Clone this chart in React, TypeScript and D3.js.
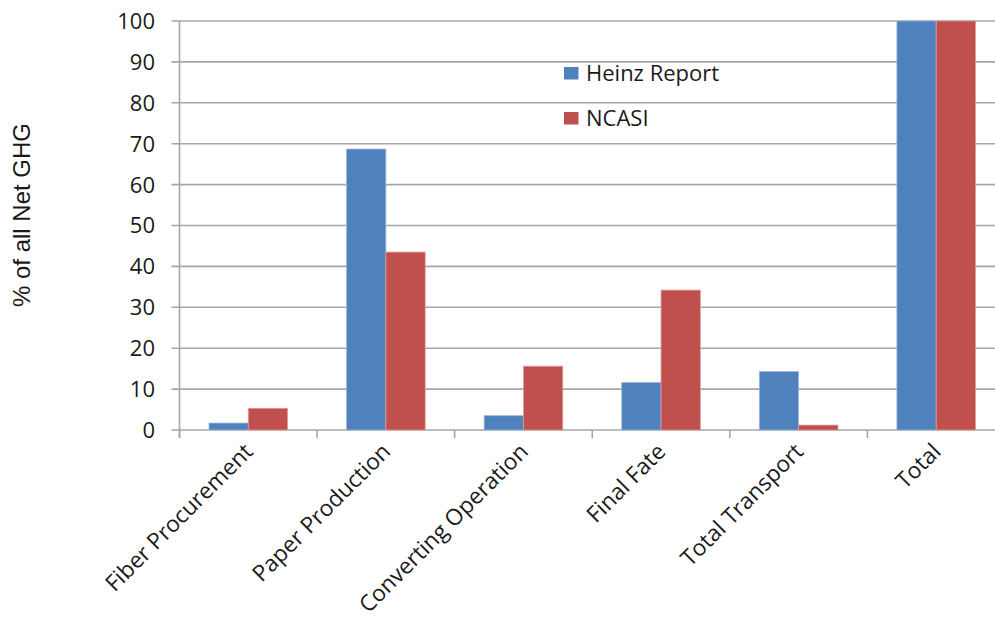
import React from "react";
import * as d3 from "d3";

const categories = ["Fiber Procurement", "Paper Production", "Converting Operation", "Final Fate", "Total Transport", "Total"];
const seriesNames = ["Heinz Report", "NCASI"];
const heinzValues = [1.7, 68.7, 3.5, 11.6, 14.3, 100];
const ncasiValues = [5.3, 43.5, 15.6, 34.2, 1.2, 100];
const yTicks = [0, 10, 20, 30, 40, 50, 60, 70, 80, 90, 100];
const colors = ["#4F81BD", "#C0504D"];
const strokes = ["#9DB7DB", "#E09A98"];

export default function App() {
  const W = 995, H = 623;
  const left = 179.5, right = 1005, top = 21, bottom = 430;
  const x0 = d3.scaleBand<string>().domain(categories).range([left, right]).paddingInner(0).paddingOuter(0);
  const x1 = d3.scaleBand<string>().domain(seriesNames).range([0, x0.bandwidth()]).paddingInner(0).paddingOuter(0.75);
  const y = d3.scaleLinear().domain([0, 100]).range([bottom, top]);
  const series = [heinzValues, ncasiValues];
  const font = "'Open Sans', sans-serif";
  const boundaries = categories.map((c) => x0(c) as number).concat([right]);

  return (
    <div style={{ position: "absolute", left: 0, top: 0 }}>
      <svg width={W} height={H} style={{ display: "block", background: "#fff" }}>
        {yTicks.map((t) => (
          <g key={t}>
            <line x1={left - 8} x2={right} y1={y(t)} y2={y(t)} stroke="#A6A6A6" strokeWidth={1.6} />
            <text x={155} y={y(t)} dy="0.36em" textAnchor="end" fontFamily={font} fontSize={22} fill="#1a1a1a">{t}</text>
          </g>
        ))}
        <line x1={left} x2={left} y1={top} y2={bottom + 8} stroke="#A6A6A6" strokeWidth={1.6} />
        {boundaries.map((b, i) => (
          <line key={i} x1={b} x2={b} y1={bottom} y2={bottom + 8} stroke="#A6A6A6" strokeWidth={1.6} />
        ))}
        {series.map((vals, si) => (
          <g key={si}>
            {vals.map((v, ci) => {
              const bx = (x0(categories[ci]) as number) + (x1(seriesNames[si]) as number);
              return (
                <rect key={ci} x={bx} y={y(v)} width={x1.bandwidth()} height={bottom - y(v)}
                  fill={colors[si]} stroke={strokes[si]} strokeWidth={0.8} />
              );
            })}
          </g>
        ))}
        {categories.map((c) => {
          const cx = (x0(c) as number) + x0.bandwidth() / 2 + 6;
          return (
            <text key={c} transform={`translate(${cx},${bottom + 23}) rotate(-45)`} textAnchor="end"
              fontFamily={font} fontSize={22.6} fill="#1a1a1a">{c}</text>
          );
        })}
        <text transform={`translate(30,${215}) rotate(-90)`} textAnchor="middle"
          fontFamily="'Liberation Sans', Arial, sans-serif" fontSize={24} fill="#1a1a1a">% of all Net GHG</text>
        {seriesNames.map((s, i) => (
          <g key={s}>
            <rect x={564} y={67 + i * 45} width={14.5} height={12.5} fill={colors[i]} />
            <text x={586} y={81 + i * 45} fontFamily={font} fontSize={22} fill="#1a1a1a">{s}</text>
          </g>
        ))}
      </svg>
    </div>
  );
}
